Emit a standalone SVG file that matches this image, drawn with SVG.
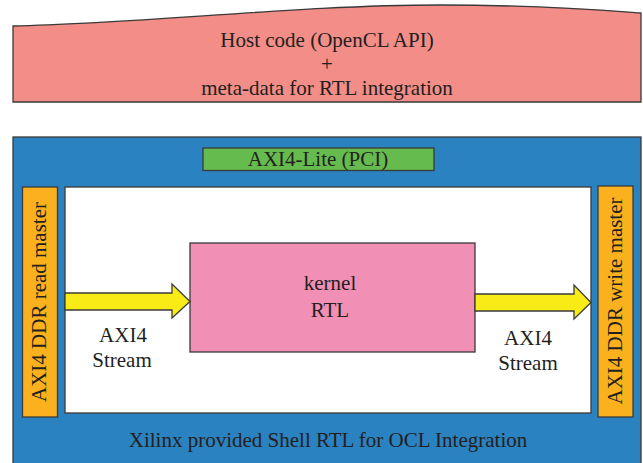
<svg xmlns="http://www.w3.org/2000/svg" width="643" height="463" viewBox="0 0 643 463">
<style>
text{font-family:"Liberation Serif","Times New Roman",serif;fill:#231f20;text-anchor:middle;font-size:21px}
.s{stroke:#3a3a3a;stroke-width:1.3}
</style>
<rect width="643" height="463" fill="#fff"/>
<g id="host">
<path class="s" d="M13,26 C150,23 300,5 440,5 C540,5 600,10 641,13 L641,102 L13,102 Z" fill="#f28d88"/>
<text x="327" y="47">Host code (OpenCL API)</text>
<text x="327" y="71">+</text>
<text x="327" y="95">meta-data for RTL integration</text>
</g>
<g id="shell">
<rect class="s" x="13" y="137" width="628" height="330" fill="#2b82c1"/>
<text x="328" y="447">Xilinx provided Shell RTL for OCL Integration</text>
</g>
<g id="axilite">
<rect class="s" x="203" y="148" width="231" height="22.5" fill="#66bb4e"/>
<text x="318" y="166">AXI4-Lite (PCI)</text>
</g>
<g id="inner">
<rect class="s" x="65" y="187" width="526" height="226" fill="#fff"/>
</g>
<g id="readmaster">
<rect class="s" x="22.5" y="187" width="35" height="230" fill="#fbb11d"/>
<text transform="translate(46,302) rotate(-90)">AXI4 DDR read master</text>
</g>
<g id="writemaster">
<rect class="s" x="598" y="186" width="35" height="231" fill="#fbb11d"/>
<text transform="translate(622,301) rotate(-90)">AXI4 DDR write master</text>
</g>
<g id="kernel">
<rect class="s" x="190" y="243" width="285" height="109" fill="#f28fb4"/>
<text x="330" y="290">kernel</text>
<text x="330" y="317">RTL</text>
</g>
<g id="connectors">
<path class="s" d="M65,293 L172,293 L172,284 L190,301.5 L172,318 L172,310 L65,310 Z" fill="#f9ec16"/>
<path class="s" d="M475,294 L574,294 L574,285 L591,302.5 L574,319 L574,311 L475,311 Z" fill="#f9ec16"/>
<text x="123" y="342">AXI4</text>
<text x="122" y="367">Stream</text>
<text x="528" y="345">AXI4</text>
<text x="528" y="370">Stream</text>
</g>
</svg>
